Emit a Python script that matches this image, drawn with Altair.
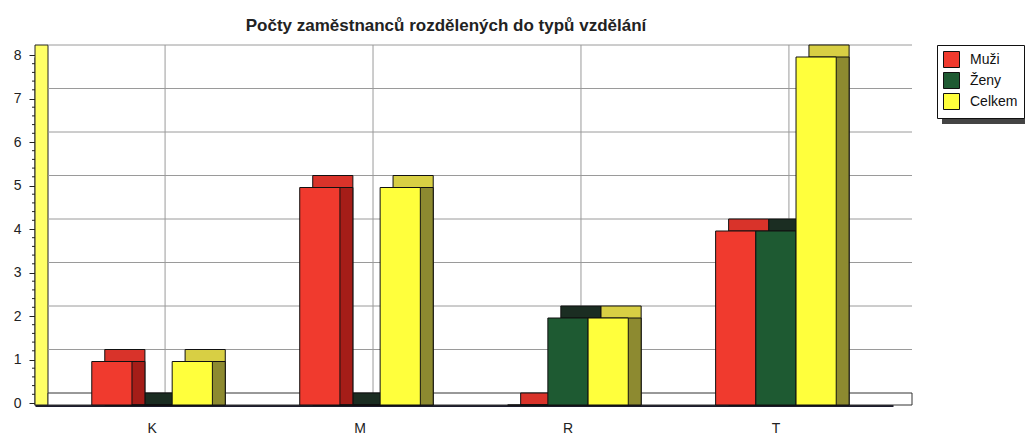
import altair as alt
import pandas as pd

# ---- data ----
categories = ["K", "M", "R", "T"]
series = ["Muži", "Ženy", "Celkem"]
muzi = [1, 5, 0, 4]
zeny = [0, 0, 2, 4]
celkem = [1, 5, 2, 8]
y_ticks = [0, 1, 2, 3, 4, 5, 6, 7, 8]
minor_ticks = [0.2, 0.4, 0.6, 0.8, 1.2, 1.4, 1.6, 1.8, 2.2, 2.4, 2.6, 2.8,
               3.2, 3.4, 3.6, 3.8, 4.2, 4.4, 4.6, 4.8, 5.2, 5.4, 5.6, 5.8,
               6.2, 6.4, 6.6, 6.8, 7.2, 7.4, 7.6, 7.8]

front_colors = ["#f03a2e", "#1e5a32", "#ffff3c"]
top_colors = ["#d9332a", "#1b2d22", "#d8cf44"]
side_colors = ["#a51d18", "#143a22", "#8d8a30"]

W, H = 858, 348
DX, DY = 13, 12
BW = 120.5
FONT = "Liberation Sans"

rows = []
for ci, c in enumerate(categories):
    for si, (s, vals) in enumerate(zip(series, [muzi, zeny, celkem])):
        rows.append({"cat": c, "series": s, "value": vals[ci],
                     "top": top_colors[si], "side": side_colors[si]})
df = pd.DataFrame(rows)

x_scale = alt.Scale(domain=categories, paddingInner=0.42, paddingOuter=0.273)
y_scale = alt.Scale(domain=[0, 8], nice=False)
x_axis = alt.Axis(title=None, labelAngle=0, ticks=False, domainWidth=3,
                  domainColor="#1c1c2c", labelFontSize=14, labelFont=FONT,
                  labelColor="#222", labelPadding=16, grid=False)
y_axis = alt.Axis(title=None, values=y_ticks, grid=False, domainWidth=2,
                  domainColor="#222", tickColor="#222", tickSize=6,
                  labelFontSize=14, labelFont=FONT, labelColor="#222",
                  labelPadding=8, labelFlush=False, tickOffset=-2)

X = alt.X("cat:N", scale=x_scale, axis=x_axis, sort=categories)
XO_front = alt.XOffset("series:N", sort=series,
                       scale=alt.Scale(domain=series, paddingInner=0, paddingOuter=0))
XO_shift = alt.XOffset("series:N", sort=series,
                       scale=alt.Scale(domain=series, range=[DX, BW + DX],
                                       paddingInner=0, paddingOuter=0))
Y = alt.Y("value:Q", scale=y_scale, axis=y_axis)

one = pd.DataFrame({"a": [0]})

# left wall and floor
wall = alt.Chart(one).mark_rect(fill="#ffff66", stroke="#222", strokeWidth=1).encode(
    x=alt.value(0), x2=alt.value(DX), y=alt.value(-DY), y2=alt.value(H))

floor = alt.Chart(one).mark_rect(fill="white", stroke="#333", strokeWidth=1).encode(
    x=alt.value(DX), x2=alt.value(W + DX + 6), y=alt.value(H - DY), y2=alt.value(H))

hgrid = alt.Chart(pd.DataFrame({"v": y_ticks[1:]})).mark_rule(
    color="#9a9a9a", strokeWidth=1, yOffset=-DY
).encode(y=alt.Y("v:Q", scale=y_scale, axis=y_axis),
         x=alt.value(DX), x2=alt.value(W + DX + 6))

vgrid = alt.Chart(pd.DataFrame({"cat": categories})).mark_rule(
    color="#9a9a9a", strokeWidth=1, xOffset=DX
).encode(x=alt.X("cat:N", scale=x_scale, axis=x_axis, sort=categories, bandPosition=0.5),
         y=alt.value(-DY), y2=alt.value(H - DY))

minor = alt.Chart(pd.DataFrame({"v": minor_ticks})).mark_rule(
    color="#222", strokeWidth=1, yOffset=-2
).encode(y=alt.Y("v:Q", scale=y_scale, axis=y_axis),
         x=alt.value(-3), x2=alt.value(0))

top = alt.Chart(df).mark_bar(
    stroke="#111", strokeWidth=1, yOffset=-DY, y2Offset=0
).encode(x=X, xOffset=XO_shift, y=Y, y2=alt.datum(0), fill=alt.Fill("top:N", scale=None))

side = alt.Chart(df).mark_bar(stroke="#111", strokeWidth=1).encode(
    x=X, xOffset=XO_shift, y=Y, y2=alt.datum(0), fill=alt.Fill("side:N", scale=None))

front = alt.Chart(df).mark_bar(stroke="#111", strokeWidth=1).encode(
    x=X, xOffset=XO_front, y=Y, y2=alt.datum(0),
    color=alt.Color("series:N", sort=series,
                    scale=alt.Scale(domain=series, range=front_colors),
                    legend=alt.Legend(title=None, orient="none", legendX=902, legendY=-12,
                                      fillColor="white", strokeColor="#111",
                                      padding=6, symbolType="square", symbolSize=256,
                                      symbolStrokeColor="#111", symbolStrokeWidth=1,
                                      labelFontSize=14, labelFont=FONT, labelColor="#111",
                                      rowPadding=0, labelOffset=10)),
)

legend_shadow = alt.Chart(one).mark_rect(fill="#444").encode(
    x=alt.value(907), x2=alt.value(990), y=alt.value(-7), y2=alt.value(67))

chart = alt.layer(wall, hgrid, vgrid, floor, legend_shadow, top, side, front, minor).resolve_scale(
    xOffset="independent"
).properties(
    width=W, height=H,
    title=alt.TitleParams("Počty zaměstnanců rozdělených do typů vzdělání",
                          font=FONT, fontSize=17, fontWeight="bold", color="#222",
                          anchor="middle", offset=10, dx=-18),
    padding={"left": 5, "top": 8, "right": 0, "bottom": 0},
).configure_view(stroke=None)

chart.save("out.html", embed_options={"renderer": "svg", "actions": False})
